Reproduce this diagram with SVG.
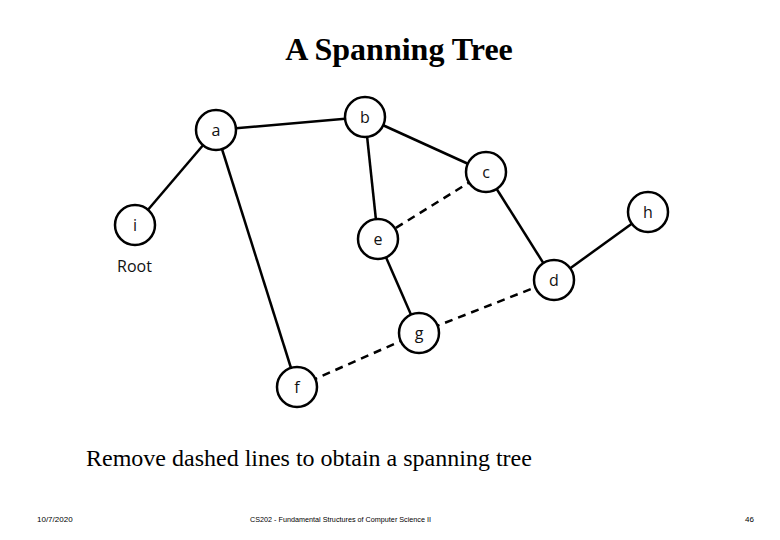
<svg xmlns="http://www.w3.org/2000/svg" width="780" height="540" viewBox="0 0 780 540">
<style>
.node circle{fill:#fff;stroke:#000;stroke-width:2.5}
.node text{font-family:"Open Sans","DejaVu Sans",sans-serif;font-size:16px;fill:#111;text-anchor:middle;dominant-baseline:central}
.edge{stroke:#000;stroke-width:2.5;fill:none}
.dash{stroke-dasharray:8,6}
.serif{font-family:"Liberation Serif","Times New Roman",serif;fill:#000}
.foot{font-family:"Liberation Sans",Arial,sans-serif;font-size:8px;fill:#000}
</style>
<rect width="780" height="540" fill="#fff"/>
<text class="serif" x="399" y="60" font-size="32" font-weight="bold" text-anchor="middle">A Spanning Tree</text>
<g id="connectors">
<line class="edge" x1="216" y1="130" x2="365" y2="117"/>
<line class="edge" x1="216" y1="130" x2="135" y2="225"/>
<line class="edge" x1="216" y1="130" x2="297" y2="387"/>
<line class="edge" x1="365" y1="117" x2="486" y2="172"/>
<line class="edge" x1="365" y1="117" x2="378" y2="239"/>
<line class="edge dash" x1="486" y1="172" x2="378" y2="239"/>
<line class="edge" x1="486" y1="172" x2="554" y2="280"/>
<line class="edge" x1="554" y1="280" x2="648" y2="212"/>
<line class="edge" x1="378" y1="239" x2="419" y2="333"/>
<line class="edge dash" x1="419" y1="333" x2="554" y2="280"/>
<line class="edge dash" x1="297" y1="387" x2="419" y2="333"/>
</g>
<g id="node-a" class="node"><circle cx="216" cy="130" r="20"/><text x="216" y="130">a</text></g>
<g id="node-b" class="node"><circle cx="365" cy="117" r="20"/><text x="365" y="117">b</text></g>
<g id="node-c" class="node"><circle cx="486" cy="172" r="20"/><text x="486" y="172">c</text></g>
<g id="node-d" class="node"><circle cx="554" cy="280" r="20"/><text x="554" y="280">d</text></g>
<g id="node-e" class="node"><circle cx="378" cy="239" r="20"/><text x="378" y="239">e</text></g>
<g id="node-f" class="node"><circle cx="297" cy="387" r="20"/><text x="297" y="387">f</text></g>
<g id="node-g" class="node"><circle cx="419" cy="333" r="20"/><text x="419" y="333">g</text></g>
<g id="node-h" class="node"><circle cx="648" cy="212" r="20"/><text x="648" y="212">h</text></g>
<g id="node-i" class="node"><circle cx="135" cy="225" r="20"/><text x="135" y="225">i</text></g>
<text x="117" y="272" font-family="'Open Sans','DejaVu Sans',sans-serif" font-size="16" fill="#111">Root</text>
<text class="serif" x="86" y="466" font-size="24">Remove dashed lines to obtain a spanning tree</text>
<text class="foot" x="37" y="522">10/7/2020</text>
<text class="foot" x="250" y="522" textLength="181" lengthAdjust="spacingAndGlyphs">CS202 - Fundamental Structures of Computer Science II</text>
<text class="foot" x="745" y="522">46</text>
</svg>
